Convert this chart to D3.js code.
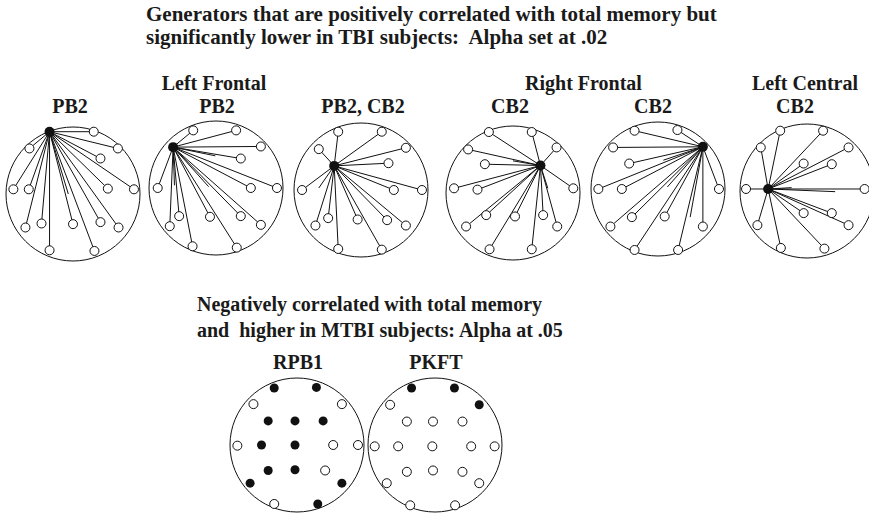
<!DOCTYPE html>
<html>
<head>
<meta charset="utf-8">
<script src="https://cdn.jsdelivr.net/npm/d3@7"></script>
<style>
  body { margin: 0; background: #fff; }
  svg text { font-family: "Liberation Serif", "Times New Roman", serif; font-weight: bold; fill: #1a1a1a; white-space: pre; }
</style>
</head>
<body>
<script>
const width = 869;
const height = 517;

// ---- data ----
const titleLines = [
  "Generators that are positively correlated with total memory but",
  "significantly lower in TBI subjects:  Alpha set at .02"
];
const subtitleLines = [
  "Negatively correlated with total memory",
  "and  higher in MTBI subjects: Alpha at .05"
];

const topLabels = ["PB2", "PB2", "PB2, CB2", "CB2", "CB2", "CB2"];
const regionNames = ["Left Frontal", "Right Frontal", "Left Central"];
const regionHeads = [[1], [3, 4], [5]];

// generator electrode of each top head (head units, -1..1)
const generators = [
  [-0.35, -0.93], [-0.64, -0.61], [-0.40, -0.36],
  [0.41, -0.41], [0.67, -0.63], [-0.58, -0.03]
];

// open electrodes linked to the generator
const electrodesTop = [
  [[0.31,-0.93],[-0.65,-0.68],[0.67,-0.68],[0.41,-0.53],[-0.89,-0.07],[-0.66,-0.07],[0.52,-0.08],[0.91,-0.07],
   [-0.71,0.50],[-0.47,0.44],[0.0,0.45],[0.41,0.42],[0.68,0.50],[-0.35,0.84],[0.32,0.85]],
  [[-0.34,-0.86],[0.30,-0.86],[0.67,-0.62],[0.37,-0.44],[-0.87,0.0],[0.52,0.0],[0.91,0.0],
   [-0.69,0.57],[-0.55,0.42],[-0.09,0.43],[0.37,0.42],[0.67,0.55],[-0.35,0.87],[0.31,0.89]],
  [[-0.34,-0.87],[0.31,-0.87],[-0.63,-0.61],[0.67,-0.63],[0.41,-0.40],[-0.88,0.0],[0.49,0.0],[0.91,0.0],
   [-0.68,0.53],[-0.49,0.42],[-0.05,0.44],[0.39,0.45],[0.67,0.53],[-0.34,0.88],[0.31,0.89]],
  [[-0.36,-0.91],[0.28,-0.91],[-0.67,-0.65],[0.65,-0.68],[-0.42,-0.43],[-0.88,-0.07],[-0.53,-0.05],[0.90,-0.07],
   [-0.70,0.50],[-0.40,0.33],[0.03,0.35],[0.45,0.33],[0.66,0.50],[-0.35,0.84],[0.28,0.84]],
  [[-0.35,-0.87],[0.29,-0.88],[-0.67,-0.62],[-0.43,-0.38],[-0.89,0.0],[-0.54,0.0],[0.91,0.0],
   [-0.71,0.56],[-0.39,0.42],[0.10,0.41],[0.67,0.56],[-0.35,0.91],[0.30,0.91]],
  [[-0.40,-0.90],[0.24,-0.90],[-0.69,-0.65],[0.62,-0.65],[-0.05,-0.41],[0.37,-0.40],[-0.91,-0.03],[0.86,-0.03],
   [-0.05,0.33],[0.37,0.33],[-0.74,0.51],[0.62,0.51],[-0.39,0.85],[0.26,0.86]]
];

// links drawn to electrodes that have no circle
const hiddenTop = [
  [[-0.07,0.0]],
  [[-0.01,-0.48],[-0.11,-0.02],[-0.62,-0.04]],
  [[-0.63,-0.03]],
  [[0.0,-0.48],[0.52,-0.07]],
  [[0.08,-0.43],[0.14,-0.03],[0.48,0.42]],
  [[-0.23,-0.05],[0.42,0.01]]
];

const bottomLabels = ["RPB1", "PKFT"];
const bottomFilled = [
  [[-0.34,-0.85],[0.29,-0.86],[-0.43,-0.36],[-0.03,-0.36],[0.39,-0.36],[-0.53,0.0],[-0.03,0.0],
   [-0.43,0.38],[-0.03,0.37],[-0.70,0.57],[0.67,0.57],[0.31,0.88]],
  [[-0.35,-0.85],[0.29,-0.85],[0.66,-0.60]]
];
const bottomOpen = [
  [[-0.65,-0.61],[0.67,-0.61],[-0.89,0.01],[0.54,0.0],[0.91,0.0],[0.42,0.38],[-0.34,0.88]],
  [[-0.67,-0.60],[-0.42,-0.35],[-0.03,-0.35],[0.41,-0.35],[-0.90,0.02],[-0.55,0.02],[-0.04,0.02],[0.54,0.02],[0.89,0.02],
   [-0.42,0.40],[-0.03,0.38],[0.41,0.40],[-0.72,0.57],[0.66,0.57],[-0.37,0.90],[0.30,0.90]]
];

// ---- layout ----
const headR = 67;
const topCx = [73, 216, 361, 513, 658, 807];
const topCy = [194, 188, 190, 193, 189, 191];
const topLabelDx = [-3, 1, 2, -3, -5, -12];
const botCx = [297, 435];
const botCy = 445;
const elR = 4.5;

const svg = d3.select("body").append("svg")
  .attr("width", width)
  .attr("height", height);

svg.append("g").selectAll("text")
  .data(titleLines)
  .join("text")
    .attr("x", 146)
    .attr("y", (d, i) => 21 + i * 23)
    .style("font-size", "21px")
    .text(d => d);

svg.append("g").selectAll("text")
  .data(subtitleLines)
  .join("text")
    .attr("x", 197)
    .attr("y", (d, i) => 311 + i * 26)
    .style("font-size", "20px")
    .text(d => d);

function headScales(cx, cy) {
  return {
    x: d3.scaleLinear().domain([-1, 1]).range([cx - headR, cx + headR]),
    y: d3.scaleLinear().domain([-1, 1]).range([cy - headR, cy + headR])
  };
}

// top heads
topCx.forEach((cx, i) => {
  const cy = topCy[i];
  const s = headScales(cx, cy);
  const g = svg.append("g");

  g.append("circle")
    .attr("cx", cx).attr("cy", cy).attr("r", headR)
    .attr("fill", "none").attr("stroke", "#111").attr("stroke-width", 1);

  const gen = generators[i];
  const targets = electrodesTop[i].concat(hiddenTop[i]);
  g.selectAll("line")
    .data(targets)
    .join("line")
      .attr("x1", s.x(gen[0])).attr("y1", s.y(gen[1]))
      .attr("x2", d => s.x(d[0])).attr("y2", d => s.y(d[1]))
      .attr("stroke", "#111").attr("stroke-width", 1);

  g.selectAll("circle.el")
    .data(electrodesTop[i])
    .join("circle")
      .attr("class", "el")
      .attr("cx", d => s.x(d[0])).attr("cy", d => s.y(d[1]))
      .attr("r", elR)
      .attr("fill", "#fff").attr("stroke", "#111").attr("stroke-width", 1);

  g.append("circle")
    .attr("cx", s.x(gen[0])).attr("cy", s.y(gen[1]))
    .attr("r", 5)
    .attr("fill", "#111");

  g.append("text")
    .attr("x", cx + topLabelDx[i]).attr("y", 113)
    .attr("text-anchor", "middle")
    .style("font-size", "20px")
    .text(topLabels[i]);
});

// region captions
regionNames.forEach((name, k) => {
  const xs = regionHeads[k].map(h => topCx[h]);
  svg.append("text")
    .attr("x", d3.mean(xs) - 2)
    .attr("y", 90)
    .attr("text-anchor", "middle")
    .style("font-size", "20px")
    .text(name);
});

// bottom heads
botCx.forEach((cx, i) => {
  const s = headScales(cx, botCy);
  const g = svg.append("g");

  g.append("circle")
    .attr("cx", cx).attr("cy", botCy).attr("r", headR)
    .attr("fill", "none").attr("stroke", "#111").attr("stroke-width", 1);

  g.selectAll("circle.open")
    .data(bottomOpen[i])
    .join("circle")
      .attr("class", "open")
      .attr("cx", d => s.x(d[0])).attr("cy", d => s.y(d[1]))
      .attr("r", elR)
      .attr("fill", "#fff").attr("stroke", "#111").attr("stroke-width", 1);

  g.selectAll("circle.filled")
    .data(bottomFilled[i])
    .join("circle")
      .attr("class", "filled")
      .attr("cx", d => s.x(d[0])).attr("cy", d => s.y(d[1]))
      .attr("r", elR)
      .attr("fill", "#111");

  g.append("text")
    .attr("x", cx + 1).attr("y", 369)
    .attr("text-anchor", "middle")
    .style("font-size", "20px")
    .text(bottomLabels[i]);
});
</script>
</body>
</html>
